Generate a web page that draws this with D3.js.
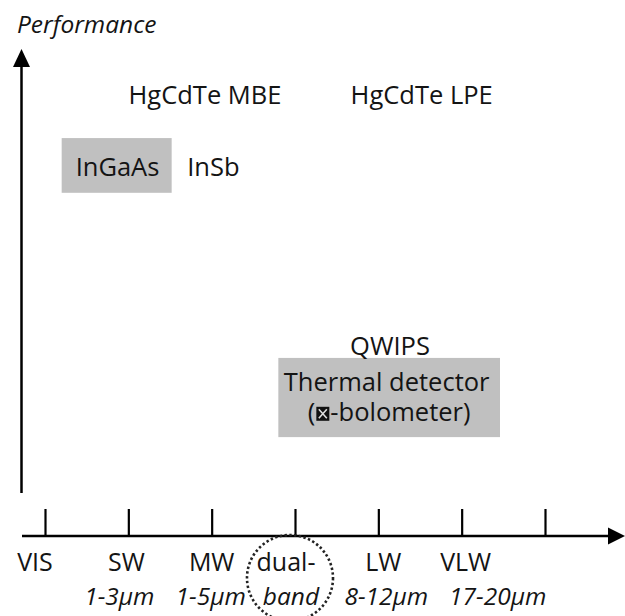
<!DOCTYPE html>
<html><head><meta charset="utf-8">
<script src="https://cdn.jsdelivr.net/npm/d3@7"></script>
<style>
body{margin:0;background:#fff}
text{font-family:"Open Sans",sans-serif;fill:#141414}
</style>
</head><body>
<svg id="c" width="625" height="616"></svg>
<script>
// ---- data ----
const bands = ["VIS", "SW", "MW", "dual-", "LW", "VLW", ""];
const ranges = ["", "1-3\u03bcm", "1-5\u03bcm", "band", "8-12\u03bcm", "17-20\u03bcm", ""];
const detectors = ["HgCdTe MBE", "HgCdTe LPE", "InGaAs", "InSb", "QWIPS"];
const detectorBand = [1.92, 4.52, 0.87, 2.02, 4.14];
const detectorPerf = [9.0, 9.0, 7.5, 7.5, 3.77];
const thermalLines = ["Thermal detector", "(-bolometer)"];
const thermalBand = [4.10, 4.13];
const thermalPerf = [3.02, 2.40];
const boxBands = [[0.20, 1.52], [2.80, 5.46]];
const boxPerf = [[7.15, 8.29], [2.06, 3.71]];
const yLabel = "Performance";

// ---- layout ----
const svg = d3.select("#c");
const x = d3.scaleLinear().domain([0, 6]).range([45, 545]);
const y = d3.scaleLinear().domain([0, 10]).range([536, 56]);
const nudge1 = [-10, -2, 0, -9, 5, 4, 0];
const nudge2 = [0, -9, -1, -4, 8, 36, 0];
const fs = "25.5px";

// boxes
svg.selectAll("rect.box").data(boxBands).join("rect")
  .attr("class", "box")
  .attr("x", d => x(d[0])).attr("width", d => x(d[1]) - x(d[0]))
  .attr("y", (d, i) => y(boxPerf[i][1])).attr("height", (d, i) => y(boxPerf[i][0]) - y(boxPerf[i][1]))
  .attr("fill", "#c0c0c0");

// axes
const ax = 21.5;
const axisY = y(0);
svg.append("line").attr("x1", ax).attr("x2", ax).attr("y1", 493).attr("y2", 64)
  .attr("stroke", "#000").attr("stroke-width", 2.5);
svg.append("path").attr("d", `M${ax},49 L${ax - 8.5},67 L${ax + 8.5},67 Z`).attr("fill", "#000");
svg.append("line").attr("x1", 22).attr("x2", 610).attr("y1", axisY).attr("y2", axisY)
  .attr("stroke", "#000").attr("stroke-width", 2.5);
svg.append("path").attr("d", `M625,${axisY} L608,${axisY - 8.5} L608,${axisY + 8.5} Z`).attr("fill", "#000");

const axis = d3.axisBottom(x).tickValues(d3.range(7)).tickSizeInner(-27).tickSizeOuter(0).tickFormat("");
const g = svg.append("g").attr("transform", `translate(0,${axisY})`).call(axis);
g.select(".domain").remove();
g.selectAll(".tick line").attr("stroke", "#000").attr("stroke-width", 2.2);

// band labels
svg.selectAll("text.band").data(bands).join("text")
  .attr("class", "band")
  .attr("x", (d, i) => x(i) + nudge1[i]).attr("y", 571)
  .attr("text-anchor", "middle").style("font-size", "25px")
  .text(d => d);
svg.selectAll("text.range").data(ranges).join("text")
  .attr("class", "range")
  .attr("x", (d, i) => x(i) + nudge2[i]).attr("y", 605)
  .attr("text-anchor", "middle").style("font-size", "24.5px").style("font-style", "italic")
  .text(d => d);

// dual-band dotted circle
svg.append("ellipse").attr("cx", x(3) - 5).attr("cy", 578).attr("rx", 43).attr("ry", 43)
  .attr("fill", "none").attr("stroke", "#222").attr("stroke-width", 2.6)
  .attr("stroke-dasharray", "2.4,2.4");

// y label
svg.append("text").attr("x", 17).attr("y", 33).style("font-size", "24.5px").style("font-style", "italic")
  .text(yLabel);

// detector labels
svg.selectAll("text.det").data(detectors).join("text")
  .attr("class", "det")
  .attr("x", (d, i) => x(detectorBand[i])).attr("y", (d, i) => y(detectorPerf[i]))
  .attr("text-anchor", "middle").style("font-size", fs)
  .text(d => d);

// thermal detector (two lines in one text)
const tt = svg.append("text").style("font-size", fs).attr("text-anchor", "middle");
tt.append("tspan").attr("x", x(thermalBand[0])).attr("y", y(thermalPerf[0])).text(thermalLines[0]);
const l2 = thermalLines[1];
tt.append("tspan").attr("x", x(thermalBand[1])).attr("y", y(thermalPerf[1])).text(l2.slice(0, 1));
tt.append("tspan").attr("dx", 15).text(l2.slice(1));
const node = tt.node();
const idx = thermalLines[0].length;
const ext = node.getExtentOfChar(idx);
const sx = ext.x + ext.width + 1;
const base = y(thermalPerf[1]);
svg.append("rect").attr("x", sx).attr("y", base - 14).attr("width", 13).attr("height", 14).attr("fill", "#111");
svg.append("path").attr("d", `M${sx + 2.5},${base - 11.5} L${sx + 10.5},${base - 2.5} M${sx + 10.5},${base - 11.5} L${sx + 2.5},${base - 2.5}`)
  .attr("stroke", "#ddd").attr("stroke-width", 1.6);
</script>
</body></html>
